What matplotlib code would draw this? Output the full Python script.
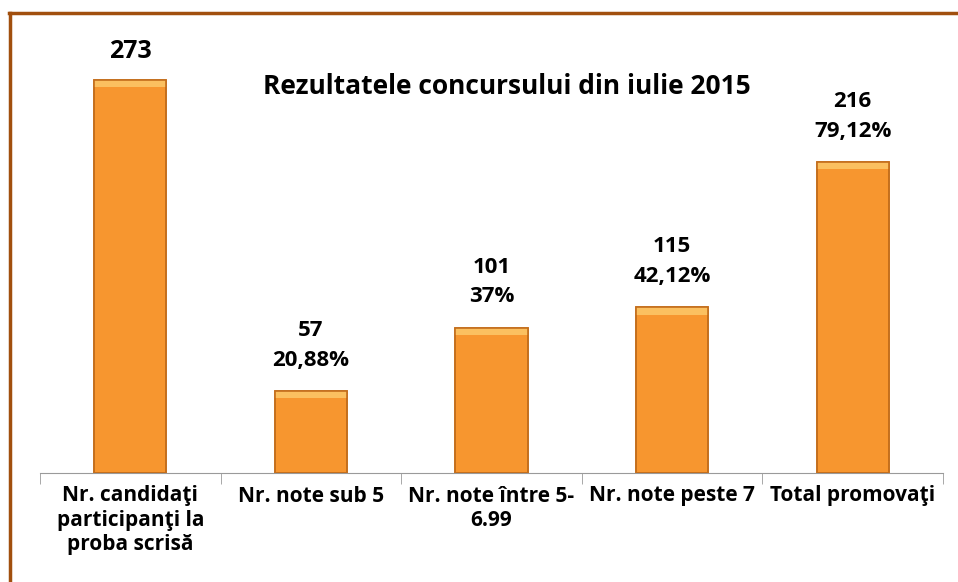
import matplotlib
matplotlib.use('Agg')
from matplotlib import pyplot as plt
from matplotlib.lines import Line2D

plt.rcParams['font.family'] = ['Open Sans', 'DejaVu Sans']

categorii = ['Nr. candidaţi\nparticipanţi la\nproba scrisă', 'Nr. note sub 5',
             'Nr. note între 5-\n6.99', 'Nr. note peste 7', 'Total promovaţi']
valori = [273, 57, 101, 115, 216]
procente = ['', '20,88%', '37%', '42,12%', '79,12%']

fig = plt.figure(figsize=(9.58, 5.82), dpi=100)
ax = fig.add_axes([40 / 958, 109 / 582, 903 / 958, 432 / 582])

x = list(range(len(valori)))
# efect de relief pe partea de sus
ax.bar(x, [5] * len(valori), bottom=[v - 5 for v in valori], width=0.4,
       color='#FBC060', edgecolor='none', zorder=3)
bars = ax.bar(x, valori, width=0.4, color='#F7962F', edgecolor='#C46E1C', linewidth=1.2, zorder=2)
ax.bar(x, valori, width=0.4, color='none', edgecolor='#C46E1C', linewidth=1.2, zorder=4)

# etichete de date
for i, b in enumerate(bars):
    if procente[i]:
        txt, fs, off = str(valori[i]) + '\n' + procente[i], 16, 14
    else:
        txt, fs, off = str(valori[i]), 18, 11
    ax.text(b.get_x() + b.get_width() / 2, b.get_height() + off, txt, ha='center', va='bottom',
            fontsize=fs, fontweight='bold', linespacing=1.55)

ax.set_xlim(-0.5, len(valori) - 0.5)
ax.set_ylim(0, 300)
ax.set_yticks([])
for s in ['top', 'right', 'left']:
    ax.spines[s].set_visible(False)
ax.spines['bottom'].set_color('#9a9a9a')

ax.set_xticks([i - 0.5 for i in range(len(valori) + 1)], minor=True)
ax.set_xticks(x)
ax.set_xticklabels(categorii, fontsize=15, fontweight='bold', linespacing=1.2, va='top')
ax.tick_params(axis='x', which='major', length=0, pad=9)
ax.tick_params(axis='x', which='minor', length=8, color='#9a9a9a')

fig.text(507 / 958, 1 - 87 / 582, 'Rezultatele concursului din iulie 2015', ha='center', va='center',
         fontsize=19, fontweight='bold')

# chenar maro
fig.add_artist(Line2D([10 / 958, 10 / 958], [0, 1 - 13 / 582], color='#A14F0E', linewidth=2.5))
fig.add_artist(Line2D([9 / 958, 1], [1 - 13 / 582, 1 - 13 / 582], color='#A14F0E', linewidth=2.5))

plt.savefig('out.png', dpi=100)
